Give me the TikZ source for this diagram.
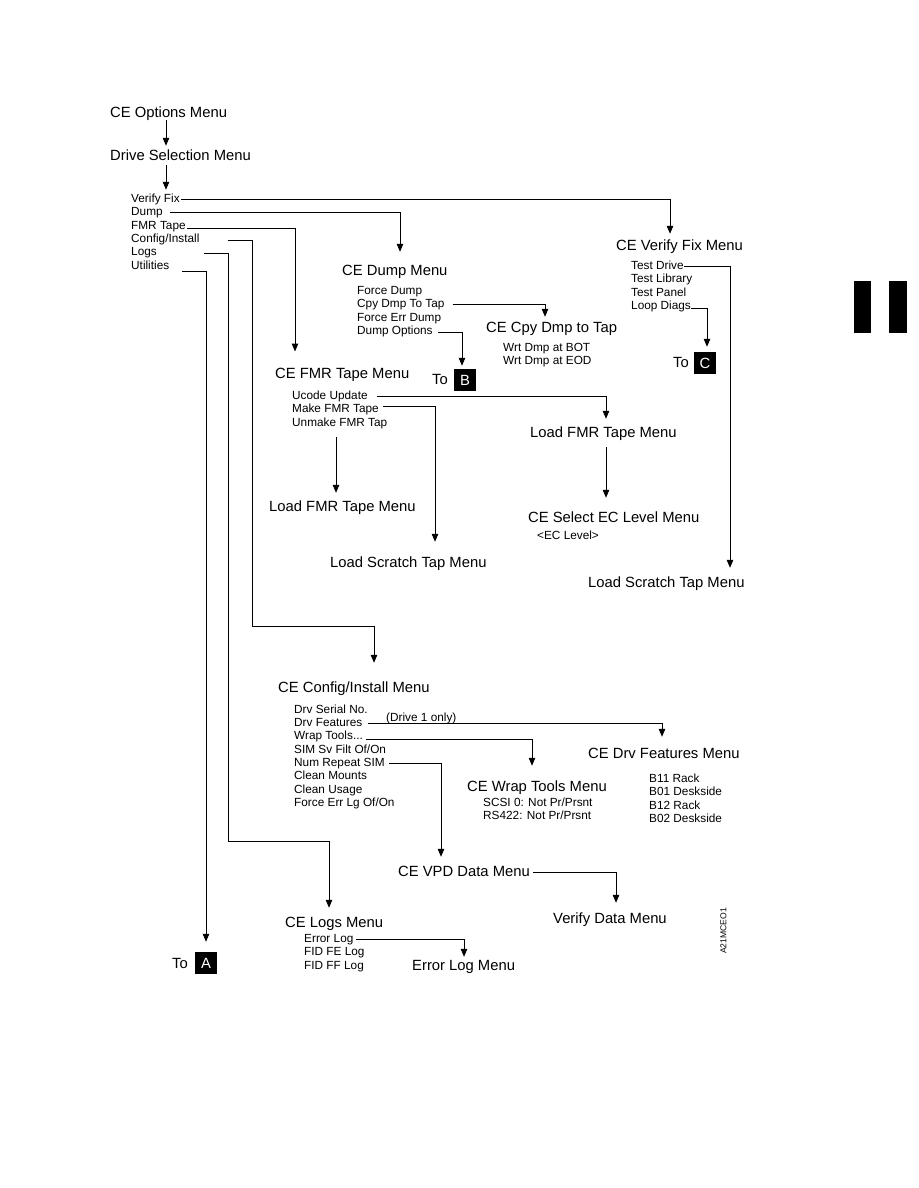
\documentclass[tikz,border=0pt]{standalone}
\usepackage{fontspec}
\setmainfont{Liberation Sans}
\usetikzlibrary{arrows.meta, positioning, calc}

\tikzset{
	head/.style={anchor=base west, inner sep=0pt, font=\fontsize{14.8}{16}\selectfont, text height=10.8pt, text depth=3pt},
	item/.style={anchor=base west, inner sep=0pt, font=\fontsize{11.8}{13}\selectfont, text height=8.6pt, text depth=2.5pt},
	link/.style={line width=1pt, -{Triangle[length=8pt,width=6.5pt]}},
	tobox/.style={fill=black, text=white, inner sep=0pt, minimum width=22pt, minimum height=22pt, font=\fontsize{14.8}{16}\selectfont},
}

\begin{document}
\begin{tikzpicture}[x=1pt, y=-1pt]
		\useasboundingbox (0,0) rectangle (918,1188);
		
		% Top menus
		\node[head] (options) at (110,117.3) {CE Options Menu};
		\node[head] (drivesel) at (110,160.3) {Drive Selection Menu};
		\node[item] (vfix) at (131,202.2) {Verify Fix};
		\node[item] (dump) at (131,215.6) {Dump};
		\node[item] (fmr) at (131,229.0) {FMR Tape};
		\node[item] (config) at (131,242.4) {Config/Install};
		\node[item] (logs) at (131,255.8) {Logs};
		\node[item] (utils) at (131,269.2) {Utilities};
		
		% Verify fix branch
		\node[head] (vfixmenu) at (616,250.3) {CE Verify Fix Menu};
		\node[item] (tdrive) at (631,269.2) {Test Drive};
		\node[item] (tlib) at (631,282.6) {Test Library};
		\node[item] (tpanel) at (631,296.0) {Test Panel};
		\node[item] (loopd) at (631,309.4) {Loop Diags};
		\node[head] (toC) at (673,367.3) {To};
		\node[tobox] (boxC) at (705,363) {C};
		\node[head] (scratchB) at (588,587.3) {Load Scratch Tap Menu};
		
		% Dump branch
		\node[head] (dumpmenu) at (342,275.3) {CE Dump Menu};
		\node[item] (fdump) at (357,294.2) {Force Dump};
		\node[item] (cpydmp) at (357,307.6) {Cpy Dmp To Tap};
		\node[item] (ferrd) at (357,321.0) {Force Err Dump};
		\node[item] (dumpopt) at (357,334.4) {Dump Options};
		\node[head] (cpymenu) at (486,332.3) {CE Cpy Dmp to Tap};
		\node[item] (wbot) at (503,351.2) {Wrt Dmp at BOT};
		\node[item] (weod) at (503,364.4) {Wrt Dmp at EOD};
		\node[head] (toB) at (432,384.3) {To};
		\node[tobox] (boxB) at (465,380) {B};
		
		% FMR tape branch
		\node[head] (fmrmenu) at (275,378.3) {CE FMR Tape Menu};
		\node[item] (ucode) at (292,399.2) {Ucode Update};
		\node[item] (makefmr) at (292,412.6) {Make FMR Tape};
		\node[item] (unmake) at (292,426.0) {Unmake FMR Tap};
		\node[head] (loadfmrA) at (269,511.3) {Load FMR Tape Menu};
		\node[head] (loadfmrB) at (530,437.3) {Load FMR Tape Menu};
		\node[head] (ecmenu) at (528,522.3) {CE Select EC Level Menu};
		\node[item] (eclevel) at (537,539.2) {<EC Level>};
		\node[head] (scratchA) at (330,567.3) {Load Scratch Tap Menu};
		
		% Config/install branch
		\node[head] (cfgmenu) at (278,692.3) {CE Config/Install Menu};
		\node[item] (cfg1) at (294,713.2) {Drv Serial No.};
		\node[item] (cfg2) at (294,726.5) {Drv Features};
		\node[item] (cfg3) at (294,739.8) {Wrap Tools...};
		\node[item] (cfg4) at (294,753.1) {SIM Sv Filt Of/On};
		\node[item] (cfg5) at (294,766.4) {Num Repeat SIM};
		\node[item] (cfg6) at (294,779.7) {Clean Mounts};
		\node[item] (cfg7) at (294,793.0) {Clean Usage};
		\node[item] (cfg8) at (294,806.3) {Force Err Lg Of/On};
		\node[item] (drv1) at (386,721) {(Drive 1 only)};
		\node[head] (featmenu) at (588,758.3) {CE Drv Features Menu};
		\foreach \t [count=\i from 0] in {B11 Rack, B01 Deskside, B12 Rack, B02 Deskside}
			\node[item] (feat\i) at (649,{782.7+13.2*\i}) {\t};
		\node[head] (wrapmenu) at (467,791.3) {CE Wrap Tools Menu};
		\node[item] (scsi) at (483,806.2) {SCSI 0: Not Pr/Prsnt};
		\node[item] (rs422) at (483,819.2) {RS422: Not Pr/Prsnt};
		\node[head] (vpdmenu) at (398,876.3) {CE VPD Data Menu};
		\node[head] (verdata) at (553,923.3) {Verify Data Menu};
		
		% Logs branch
		\node[head] (logsmenu) at (285,927.3) {CE Logs Menu};
		\node[item] (errlog) at (304,942.2) {Error Log};
		\node[item] (fidfe) at (304,955.6) {FID FE Log};
		\node[item] (fidff) at (304,969.0) {FID FF Log};
		\node[head] (errmenu) at (412,970.3) {Error Log Menu};
		\node[head] (toA) at (172,968.3) {To};
		\node[tobox] (boxA) at (206,963) {A};
		
		% Figure code and side tabs
		\node[rotate=90, inner sep=0pt, font=\fontsize{8.6}{10}\selectfont] (figid) at (723.5,931) {A21MCEO1};
		\fill (854,281) rectangle (871,333);
		\fill (889,281) rectangle (907,333);
		
		% Connectors
		\draw[link] ([xshift=56pt]options.south west) -- ([xshift=56pt,yshift=3.5pt]drivesel.north west);
		\draw[link] ([xshift=56pt,yshift=-1.7pt]drivesel.south west) -- ([xshift=35pt,yshift=3.6pt]vfix.north west);
		\draw[link] ([xshift=1pt]vfix.east) -| ([xshift=54pt,yshift=5.5pt]vfixmenu.north west);
		\draw[link] ([xshift=7.5pt]dump.east) -| ([xshift=58pt,yshift=12.5pt]dumpmenu.north west);
		\draw[link] ([xshift=1pt,yshift=-3pt]fmr.east) -| ([xshift=20pt,yshift=15.8pt]fmrmenu.north west);
		\draw[link] ([xshift=28pt,yshift=-1.6pt]config.east) -- ++(25,0) -- ++(0,386)
			-| ([xshift=96pt,yshift=18.5pt]cfgmenu.north west);
		\draw[link] ([xshift=47.4pt,yshift=-1.2pt]logs.east) -- ++(24,0) -- ++(0,588)
			-| ([xshift=44pt,yshift=8.5pt]logsmenu.north west);
		\draw[link] ([xshift=13pt,yshift=-5.8pt]utils.east) -| ([yshift=10pt]boxA.north);
		
		\draw[link] (tdrive.east) -| ([xshift=142pt,yshift=8.5pt]scratchB.north west);
		\draw[link] ([yshift=-2.6pt]loopd.east) -| ([xshift=2pt,yshift=5pt]boxC.north);
		\draw[link] ([xshift=8pt]cpydmp.east) -| ([xshift=59pt,yshift=4.5pt]cpymenu.north west);
		\draw[link] ([xshift=5.6pt,yshift=-1.6pt]dumpopt.east) -| ([xshift=-3pt,yshift=3pt]boxB.north);
		
		\draw[link] ([xshift=9.6pt,yshift=-0.8pt]ucode.east) -| ([xshift=76pt,yshift=7.5pt]loadfmrB.north west);
		\draw[link] ([xshift=4pt,yshift=2.6pt]makefmr.east) -| ([xshift=105pt,yshift=14.5pt]scratchA.north west);
		\draw[link] ([xshift=44pt,yshift=-8.5pt]unmake.south west) -- ([xshift=67pt,yshift=7.5pt]loadfmrA.north west);
		\draw[link] ([xshift=76pt,yshift=-6.7pt]loadfmrB.south west) -- ([xshift=78pt,yshift=13.5pt]ecmenu.north west);
		
		\draw[link] ([xshift=5.8pt,yshift=-0.5pt]cfg2.east) -| ([xshift=74pt,yshift=10.5pt]featmenu.north west);
		\draw[link] ([xshift=3pt,yshift=-3.2pt]cfg3.east) -| ([xshift=65pt,yshift=14.5pt]wrapmenu.north west);
		\draw[link] ([xshift=4.5pt]cfg5.east) -| ([xshift=43pt,yshift=8.5pt]vpdmenu.north west);
		\draw[link] ([xshift=3.4pt]vpdmenu.east) -| ([xshift=63pt,yshift=9.5pt]verdata.north west);
		\draw[link] ([xshift=2pt,yshift=-0.8pt]errlog.east) -| ([xshift=52pt,yshift=2.5pt]errmenu.north west);
	\end{tikzpicture}
\end{document}
